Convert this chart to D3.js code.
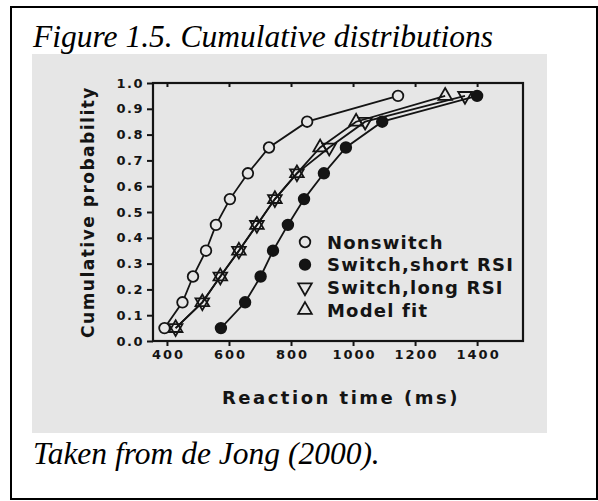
<!DOCTYPE html>
<html>
<head>
<meta charset="utf-8">
<script src="https://cdn.jsdelivr.net/npm/d3@7"></script>
<style>
  html, body { margin: 0; padding: 0; background: #ffffff; }
  svg { display: block; }
</style>
</head>
<body>
<svg id="chart" width="598" height="501"></svg>
<script>
// ---- data ----
const probabilities = [0.05, 0.15, 0.25, 0.35, 0.45, 0.55, 0.65, 0.75, 0.85, 0.95];
const nonswitch   = [392, 450, 484, 526, 558, 603, 661, 729, 852, 1145];
const switchShort = [574, 652, 702, 742, 790, 842, 906, 977, 1094, 1400];
const switchLong  = [428, 514, 572, 632, 690, 748, 819, 923, 1039, 1361];
const modelFit    = [428, 514, 572, 632, 690, 748, 819, 894, 1010, 1297];
const xTicks = [400, 600, 800, 1000, 1200, 1400];
const yTicks = [0.0, 0.1, 0.2, 0.3, 0.4, 0.5, 0.6, 0.7, 0.8, 0.9, 1.0];
const legendLabels = ["Nonswitch", "Switch,short RSI", "Switch,long RSI", "Model fit"];
const titleText = "Figure 1.5. Cumulative distributions";
const captionText = "Taken from de Jong (2000).";
const xTitle = "Reaction time (ms)";
const yTitle = "Cumulative probability";

const svg = d3.select("#chart");
const ink = "#141414";
const paper = "#e6e6e6";
const plotFont = "'DejaVu Sans', sans-serif";
const serifFont = "'Liberation Serif', 'Times New Roman', serif";

// outer border
svg.append("rect").attr("x", 11).attr("y", 7).attr("width", 586).attr("height", 492)
  .attr("fill", "#fff").attr("stroke", "#000").attr("stroke-width", 2);

// title & caption
svg.append("text").attr("x", 33).attr("y", 47).text(titleText)
  .attr("font-family", serifFont).attr("font-style", "italic")
  .attr("font-size", 31.5).attr("fill", "#000");
svg.append("text").attr("x", 33).attr("y", 464).text(captionText)
  .attr("font-family", serifFont).attr("font-style", "italic")
  .attr("font-size", 31.5).attr("fill", "#000");

// scanned figure background
svg.append("rect").attr("x", 32).attr("y", 54).attr("width", 515).attr("height", 379)
  .attr("fill", paper);

// scales
const x = d3.scaleLinear().domain([355, 1548]).range([153, 523]);
const y = d3.scaleLinear().domain([0, 1]).range([341, 83]);

const g = svg.append("g");

// frame
g.append("rect")
  .attr("x", x(355)).attr("y", y(1))
  .attr("width", x(1548) - x(355)).attr("height", y(0) - y(1))
  .attr("fill", "none").attr("stroke", ink).attr("stroke-width", 2.2);

// bottom axis
const xAxis = d3.axisBottom(x).tickValues(xTicks).tickSize(5).tickPadding(4).tickFormat(d3.format("d"));
const gx = g.append("g").attr("transform", `translate(0,${y(0)})`).call(xAxis);
gx.select(".domain").remove();
gx.selectAll("line").attr("stroke", ink).attr("stroke-width", 2);
gx.selectAll("text").attr("font-family", plotFont).attr("font-weight", "bold")
  .attr("font-size", 13).attr("letter-spacing", "2px").attr("fill", ink)
  .attr("dx", "1px");

// top inner ticks
const xTop = d3.axisTop(x).tickValues(xTicks).tickSize(-4).tickFormat("");
const gxt = g.append("g").attr("transform", `translate(0,${y(1)})`).call(xTop);
gxt.select(".domain").remove();
gxt.selectAll("line").attr("stroke", ink).attr("stroke-width", 2);

// left axis
const yAxis = d3.axisLeft(y).tickValues(yTicks).tickSize(6).tickPadding(3).tickFormat(d3.format(".1f"));
const gy = g.append("g").attr("transform", `translate(${x(355)},0)`).call(yAxis);
gy.select(".domain").remove();
gy.selectAll("line").attr("stroke", ink).attr("stroke-width", 2);
gy.selectAll("text").attr("font-family", plotFont).attr("font-weight", "bold")
  .attr("font-size", 13).attr("letter-spacing", "1.5px").attr("fill", ink);

// axis titles
g.append("text").attr("x", 341).attr("y", 404).attr("text-anchor", "middle")
  .attr("font-family", plotFont).attr("font-weight", "bold").attr("font-size", 18)
  .attr("letter-spacing", "2.5px").attr("fill", ink).text(xTitle);
g.append("text").attr("transform", "translate(94,212) rotate(-90)").attr("text-anchor", "middle")
  .attr("font-family", plotFont).attr("font-weight", "bold").attr("font-size", 17)
  .attr("letter-spacing", "1.5px").attr("fill", ink).text(yTitle);

// series
const series = [
  { values: nonswitch,   shape: "circle",   filled: false },
  { values: switchShort, shape: "circle",   filled: true  },
  { values: switchLong,  shape: "triDown",  filled: false },
  { values: modelFit,    shape: "triUp",    filled: false }
];

const line = d3.line().x(d => x(d[0])).y(d => y(d[1]));
const triPath = d3.symbol().type(d3.symbolTriangle).size(80)();

function drawMarker(sel, shape, filled) {
  if (shape === "circle") {
    sel.append("circle").attr("r", 5.3)
      .attr("fill", filled ? ink : paper).attr("stroke", ink).attr("stroke-width", 1.8);
  } else {
    sel.append("path").attr("d", triPath)
      .attr("transform", shape === "triDown" ? "rotate(180)" : null)
      .attr("fill", "none").attr("stroke", ink).attr("stroke-width", 1.8);
  }
}

series.forEach(s => {
  const pts = s.values.map((v, i) => [v, probabilities[i]]);
  g.append("path").datum(pts).attr("d", line)
    .attr("fill", "none").attr("stroke", ink).attr("stroke-width", 1.8);
});
series.forEach(s => {
  const pts = s.values.map((v, i) => [v, probabilities[i]]);
  g.selectAll(null).data(pts).enter().append("g")
    .attr("transform", d => `translate(${x(d[0])},${y(d[1])})`)
    .each(function () { drawMarker(d3.select(this), s.shape, s.filled); });
});

// legend
const legendY = d3.scaleLinear().domain([0, 3]).range([242, 310]);
legendLabels.forEach((lab, i) => {
  const row = g.append("g").attr("transform", `translate(305,${legendY(i)})`);
  drawMarker(row, series[i].shape, series[i].filled);
  row.append("text").attr("x", 22).attr("y", 6.5)
    .attr("font-family", plotFont).attr("font-weight", "bold").attr("font-size", 18)
    .attr("letter-spacing", "1.2px").attr("fill", ink).text(lab);
});
</script>
</body>
</html>
